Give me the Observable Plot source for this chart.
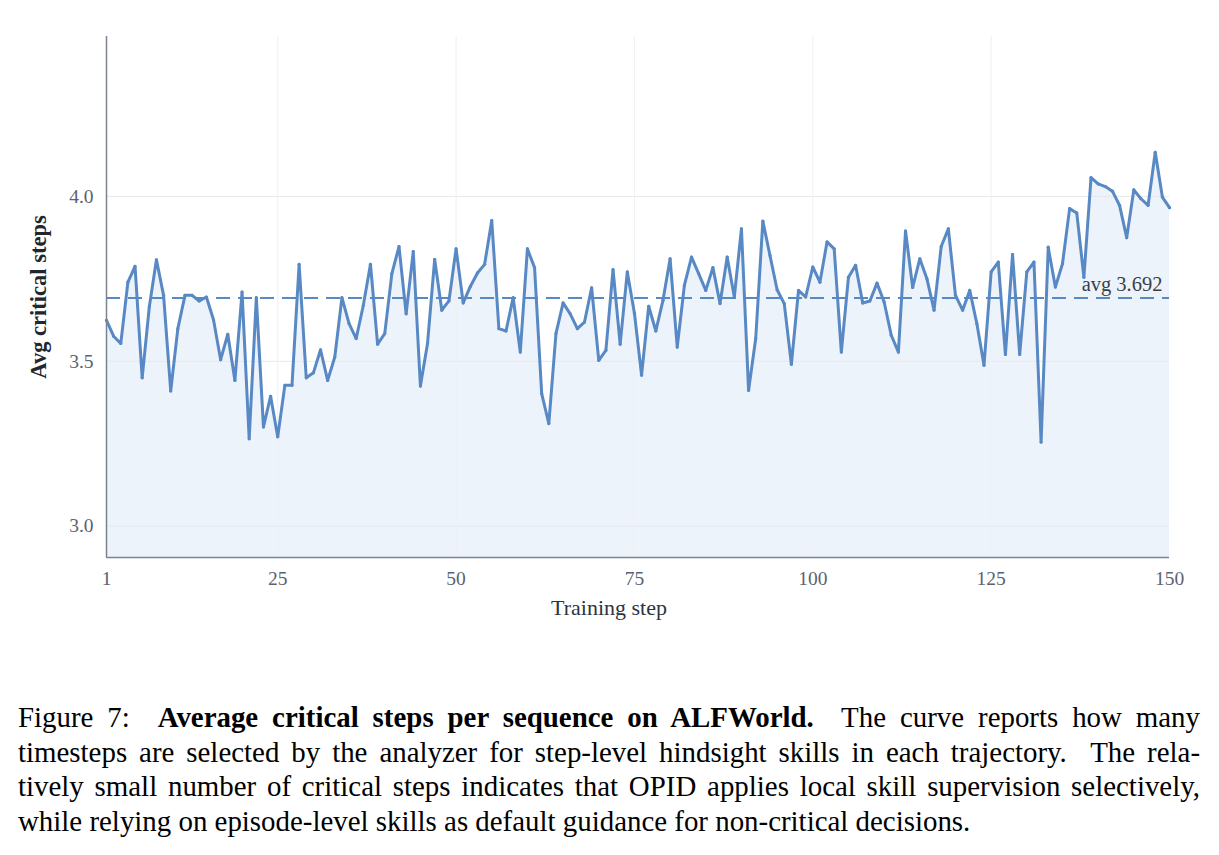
<!DOCTYPE html>
<html>
<head>
<meta charset="utf-8">
<script src="https://cdn.jsdelivr.net/npm/d3@7"></script>
<script src="https://cdn.jsdelivr.net/npm/@observablehq/plot@0.6"></script>
<style>
  html, body { margin: 0; padding: 0; background: #fff; }
  #wrap { position: relative; width: 1219px; height: 855px; overflow: hidden; }
  #chart { position: absolute; left: 0; top: 0; }
  #caption {
    position: absolute; left: 18px; top: 700px; width: 1182px;
    font-family: "Liberation Serif", "DejaVu Serif", serif;
    font-size: 28.9px; line-height: 34.7px; color: #000;
  }
  #caption .ln { text-align: justify; text-align-last: justify; white-space: nowrap; }
  #caption .ln.last { text-align: left; text-align-last: left; }
</style>
</head>
<body>
<div id="wrap">
  <div id="chart"></div>
  <div id="caption">
    <div class="ln">Figure 7:&nbsp; <b>Average critical steps per sequence on ALFWorld.</b>&nbsp; The curve reports how many</div>
    <div class="ln">timesteps are selected by the analyzer for step-level hindsight skills in each trajectory.&nbsp; The rela-</div>
    <div class="ln">tively small number of critical steps indicates that OPID applies local skill supervision selectively,</div>
    <div class="ln last">while relying on episode-level skills as default guidance for non-critical decisions.</div>
  </div>
</div>
<script>
const steps = d3.range(1, 151);
const avgCriticalSteps = [
  3.624, 3.576, 3.554, 3.740, 3.788, 3.450, 3.665, 3.808, 3.700, 3.410,
  3.599, 3.700, 3.700, 3.683, 3.695, 3.626, 3.505, 3.582, 3.442, 3.710,
  3.265, 3.693, 3.301, 3.394, 3.271, 3.427, 3.427, 3.794, 3.450, 3.465,
  3.535, 3.442, 3.513, 3.693, 3.614, 3.569, 3.670, 3.794, 3.552, 3.584,
  3.766, 3.848, 3.644, 3.833, 3.425, 3.554, 3.809, 3.655, 3.683, 3.841,
  3.677, 3.727, 3.768, 3.794, 3.927, 3.599, 3.592, 3.693, 3.528, 3.841,
  3.784, 3.402, 3.311, 3.584, 3.677, 3.644, 3.599, 3.619, 3.723, 3.503,
  3.533, 3.778, 3.552, 3.771, 3.646, 3.458, 3.667, 3.592, 3.685, 3.811,
  3.543, 3.730, 3.816, 3.766, 3.715, 3.784, 3.675, 3.816, 3.695, 3.902,
  3.412, 3.569, 3.925, 3.821, 3.717, 3.675, 3.491, 3.715, 3.695, 3.786,
  3.740, 3.862, 3.841, 3.528, 3.755, 3.791, 3.677, 3.683, 3.737, 3.680,
  3.579, 3.528, 3.895, 3.724, 3.811, 3.750, 3.655, 3.848, 3.902, 3.700,
  3.655, 3.715, 3.614, 3.488, 3.771, 3.801, 3.521, 3.824, 3.521, 3.771,
  3.801, 3.255, 3.846, 3.725, 3.796, 3.963, 3.950, 3.755, 4.057, 4.038,
  4.030, 4.016, 3.973, 3.875, 4.020, 3.993, 3.973, 4.134, 3.998, 3.966
];
const avgValue = 3.692;
const avgLabel = "avg 3.692";
const xTicks = [1, 25, 50, 75, 100, 125, 150];
const xGrid = [25, 50, 75, 100, 125];
const yTicks = [3.0, 3.5, 4.0];
const yDomain = [2.905, 4.485];
const xLabel = "Training step";
const yLabel = "Avg critical steps";

const data = steps.map((s, i) => ({step: s, value: avgCriticalSteps[i]}));

const lineColor = "#5889c4";
const serif = "'Liberation Serif', 'DejaVu Serif', serif";

const chart = Plot.plot({
  width: 1219,
  height: 640,
  marginLeft: 106,
  marginRight: 50,
  marginTop: 36,
  marginBottom: 83,
  style: {fontFamily: serif, fontSize: "19px", background: "transparent", color: "#5b6270"},
  x: {domain: [1, 150]},
  y: {domain: yDomain},
  marks: [
    Plot.areaY(data, {x: "step", y1: () => yDomain[0], y2: "value", fill: "#edf3fb", curve: "linear"}),
    Plot.gridY(yTicks, {stroke: "#e6e8ec", strokeOpacity: 1, strokeWidth: 1}),
    Plot.gridX(xGrid, {stroke: "#eef0f3", strokeOpacity: 1, strokeWidth: 1}),
    Plot.ruleY([avgValue], {stroke: lineColor, strokeWidth: 2, strokeDasharray: "14,8"}),
    Plot.line(data, {x: "step", y: "value", stroke: lineColor, strokeWidth: 3, strokeLinejoin: "round"}),
    Plot.dot(data, {x: "step", y: "value", r: 1.6, fill: lineColor, stroke: null}),
    Plot.text([avgLabel], {frameAnchor: "right", y: () => avgValue, text: d => d, textAnchor: "end", dx: -7, dy: -14, fill: "#3a3f47", fontSize: 20.5}),
    Plot.ruleX([1], {stroke: "#7b8290", strokeWidth: 1.5}),
    Plot.ruleY([yDomain[0]], {stroke: "#7b8290", strokeWidth: 1.5}),
    Plot.axisX(xTicks, {tickSize: 0, tickPadding: 14, tickFormat: d => String(d), label: null, fill: "#5b6270", fontSize: 19.5}),
    Plot.axisY(yTicks, {tickSize: 0, tickPadding: 13, tickFormat: d3.format(".1f"), label: null, fill: "#5b6270", fontSize: 19.5}),
    Plot.text([xLabel], {frameAnchor: "bottom", text: d => d, textAnchor: "middle", dx: -29, dy: 57, fill: "#2d3440", fontSize: 22}),
    Plot.text([yLabel], {frameAnchor: "left", text: d => d, rotate: -90, textAnchor: "middle", dx: -68, fill: "#22262d", fontSize: 22.5, fontWeight: "bold"})
  ]
});
document.getElementById("chart").appendChild(chart);
</script>
</body>
</html>
